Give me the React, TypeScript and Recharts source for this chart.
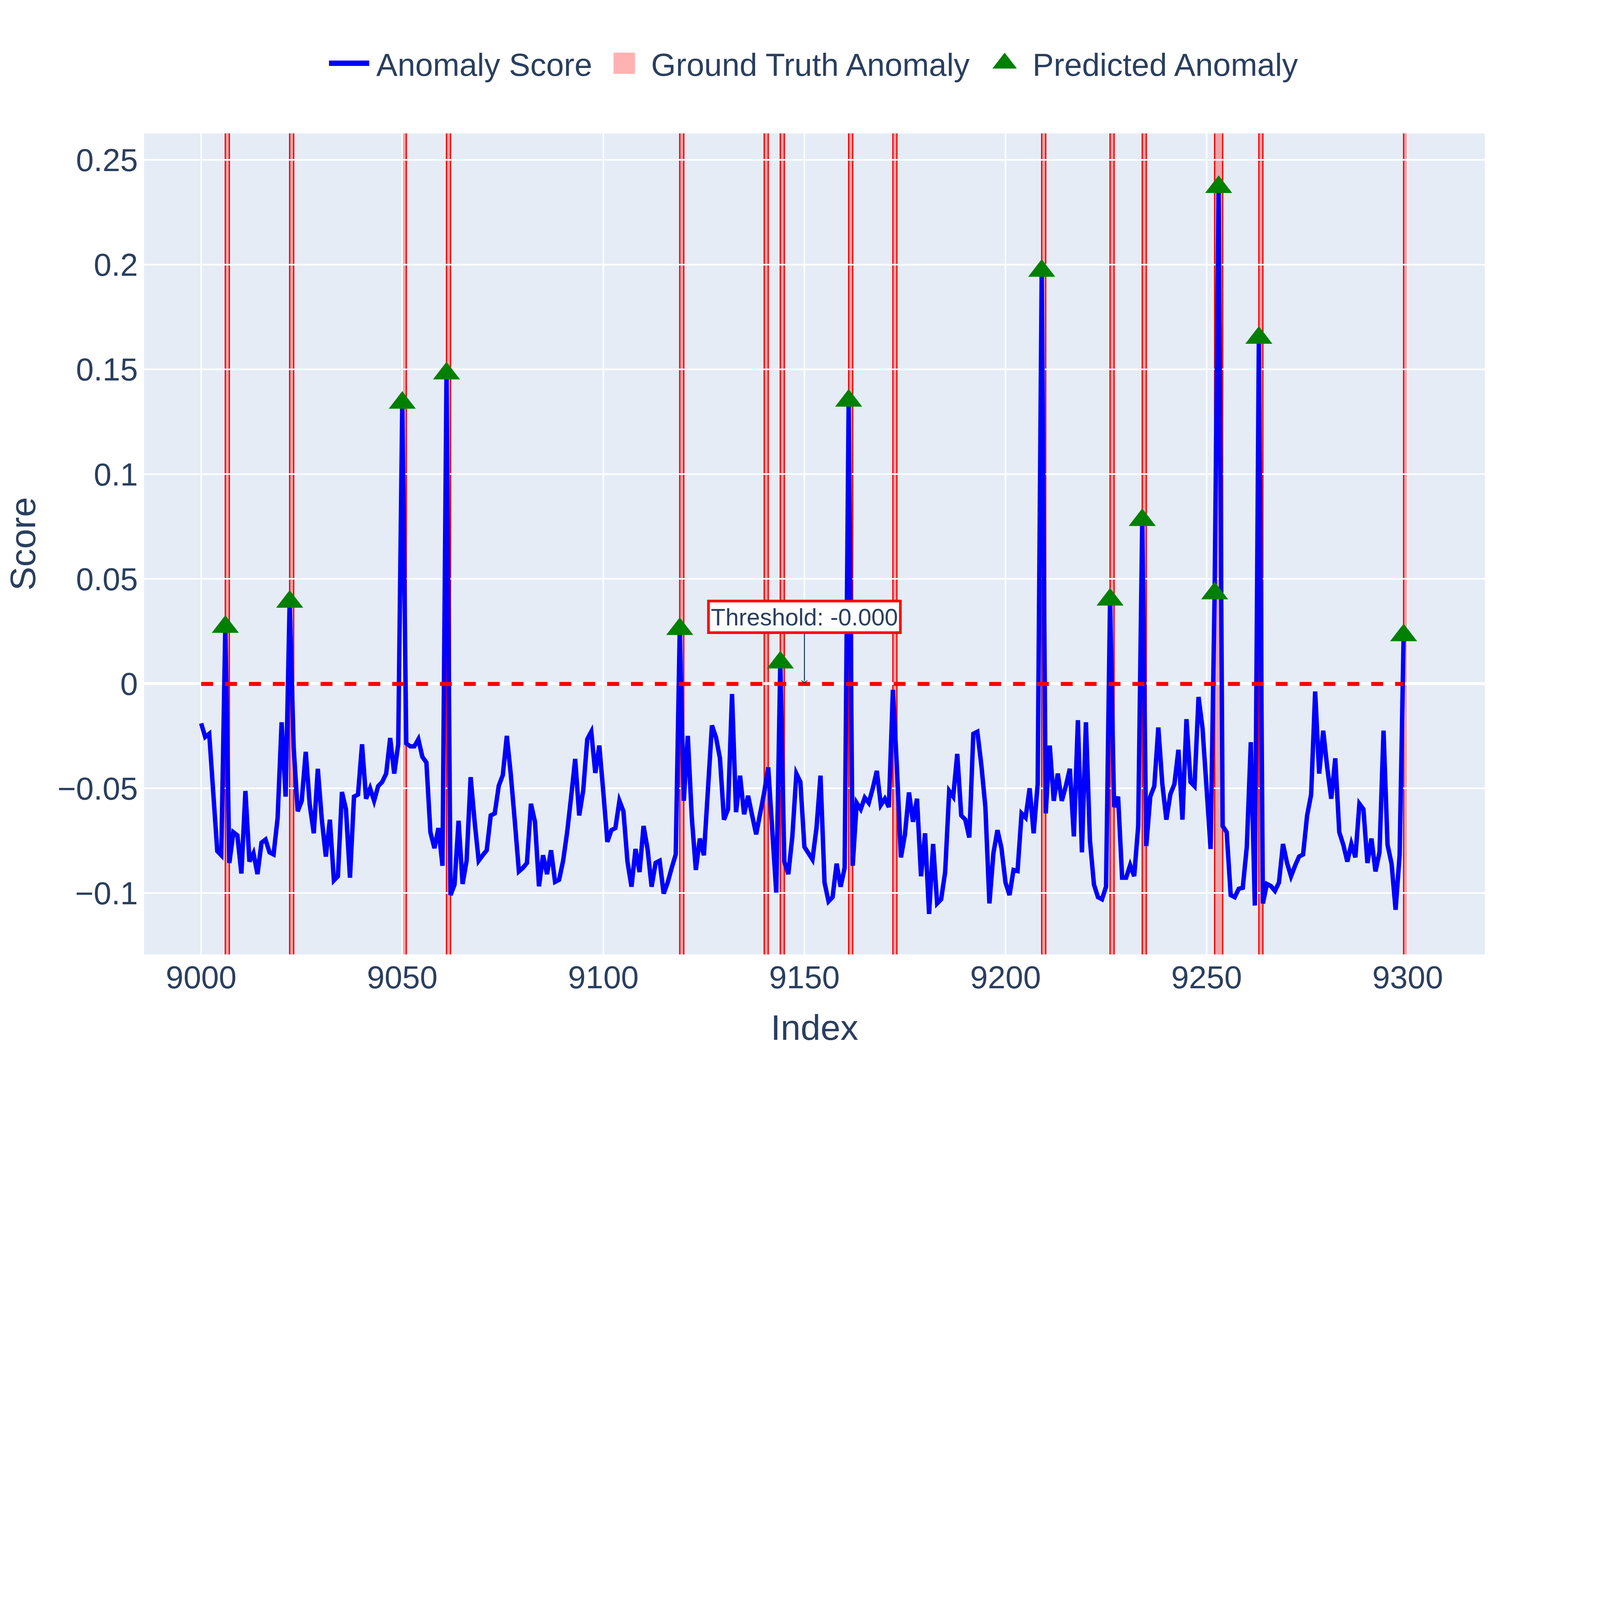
import React from 'react';
import {
  ComposedChart,
  Line,
  Scatter,
  XAxis,
  YAxis,
  CartesianGrid,
  ReferenceArea,
  ReferenceLine,
  ReferenceDot,
  Legend,
} from 'recharts';

// ---- data ----
const START_INDEX = 9000;

const anomalyScores = [
  -0.019, -0.0255, -0.024, -0.052, -0.08, -0.082, 0.027, -0.0857, -0.071, -0.0725,
  -0.0907, -0.0513, -0.085, -0.081, -0.091, -0.076, -0.0745, -0.0806, -0.0816, -0.0644,
  -0.0185, -0.054, 0.039, -0.0306, -0.061, -0.056, -0.0326, -0.058, -0.0715, -0.0407,
  -0.065, -0.0826, -0.065, -0.094, -0.092, -0.0518, -0.06, -0.0927, -0.054, -0.053,
  -0.029, -0.055, -0.05, -0.056, -0.049, -0.047, -0.043, -0.026, -0.043, -0.029,
  0.134, -0.0286, -0.03, -0.03, -0.0266, -0.035, -0.0377, -0.071, -0.0786, -0.069,
  -0.087, 0.148, -0.101, -0.096, -0.0655, -0.0957, -0.0846, -0.0447, -0.066, -0.0846,
  -0.082, -0.0796, -0.063, -0.062, -0.0488, -0.0437, -0.025, -0.0437, -0.066, -0.0897,
  -0.088, -0.0857, -0.0574, -0.066, -0.0968, -0.082, -0.091, -0.0796, -0.0947, -0.0937,
  -0.0846, -0.071, -0.054, -0.036, -0.063, -0.051, -0.0266, -0.023, -0.0427, -0.0296,
  -0.052, -0.0756, -0.07, -0.069, -0.056, -0.061, -0.085, -0.097, -0.079, -0.09,
  -0.068, -0.079, -0.097, -0.0856, -0.0846, -0.1003, -0.095, -0.088, -0.0816, 0.026,
  -0.056, -0.025, -0.064, -0.089, -0.074, -0.082, -0.051, -0.02, -0.0256, -0.0357,
  -0.065, -0.06, -0.005, -0.0614, -0.044, -0.0624, -0.0536, -0.063, -0.072, -0.062,
  -0.052, -0.04, -0.07, -0.0998, 0.01, -0.085, -0.091, -0.073, -0.043, -0.047,
  -0.078, -0.081, -0.084, -0.069, -0.044, -0.095, -0.104, -0.102, -0.086, -0.097,
  -0.088, 0.135, -0.087, -0.057, -0.06, -0.0545, -0.057, -0.05, -0.0417, -0.058,
  -0.055, -0.059, -0.003, -0.04, -0.083, -0.072, -0.052, -0.066, -0.055, -0.092,
  -0.0715, -0.11, -0.0766, -0.105, -0.103, -0.09, -0.0513, -0.054, -0.0336, -0.063,
  -0.065, -0.0735, -0.024, -0.023, -0.039, -0.059, -0.105, -0.081, -0.07, -0.0786,
  -0.095, -0.101, -0.089, -0.0895, -0.062, -0.064, -0.05, -0.0715, -0.048, 0.197,
  -0.062, -0.0296, -0.056, -0.043, -0.056, -0.049, -0.0407, -0.073, -0.0175, -0.0806,
  -0.0185, -0.075, -0.096, -0.102, -0.103, -0.097, 0.04, -0.059, -0.054, -0.0927,
  -0.0927, -0.0867, -0.092, -0.068, 0.078, -0.0776, -0.054, -0.049, -0.021, -0.048,
  -0.065, -0.0528, -0.048, -0.0316, -0.065, -0.017, -0.047, -0.049, -0.0064, -0.0215,
  -0.05, -0.079, 0.043, 0.237, -0.068, -0.071, -0.101, -0.102, -0.098, -0.0975,
  -0.078, -0.028, -0.106, 0.165, -0.105, -0.0957, -0.0967, -0.099, -0.095, -0.0766,
  -0.0856, -0.092, -0.087, -0.0826, -0.0816, -0.063, -0.053, -0.0038, -0.043, -0.0225,
  -0.04, -0.055, -0.0357, -0.071, -0.077, -0.085, -0.0766, -0.083, -0.0574, -0.06,
  -0.0857, -0.074, -0.0897, -0.0806, -0.0225, -0.077, -0.086, -0.108, -0.082, 0.023,
];

const groundTruthRanges: [number, number][] = [
  [9006, 9007], [9022, 9023], [9050, 9051], [9061, 9062], [9119, 9120],
  [9140, 9141], [9144, 9145], [9161, 9162], [9172, 9173], [9209, 9210],
  [9226, 9227], [9234, 9235], [9252, 9254], [9263, 9264], [9299, 9300],
];

const predictedIndices = [
  9006, 9022, 9050, 9061, 9119, 9144, 9161, 9209, 9226, 9234, 9252, 9253, 9263, 9299,
];

const THRESHOLD = -0.0002;
const THRESHOLD_LABEL = 'Threshold: -0.000';
const THRESHOLD_ARROW_X = 9150;

const xTicks = [9000, 9050, 9100, 9150, 9200, 9250, 9300];
const yTicks = [-0.1, -0.05, 0, 0.05, 0.1, 0.15, 0.2, 0.25];

const X_DOMAIN: [number, number] = [8985.6, 9319.4];
const Y_DOMAIN: [number, number] = [-0.1297, 0.263];

// ---- styles (measured at 7200x4800, scaled by S so the whole chart is photographed) ----
const S = 0.566;
const px = (v: number) => v * S;
const FONT = '"Liberation Sans", Arial, Helvetica, sans-serif';
const INK = '#2a3f5f';
const W = Math.round(px(7200));
const H = Math.round(px(4800));

const scoreRows = anomalyScores.map((score, i) => ({ index: START_INDEX + i, score }));
const predictedRows = predictedIndices.map((index) => ({
  index,
  score: anomalyScores[index - START_INDEX],
}));

const fmtY = (v: number) => (v < 0 ? '\u2212' + String(Math.abs(v)) : String(v));

const triPath = (cx: number, cy: number, r: number) => {
  const rt = (r * 2) / Math.sqrt(3);
  return `M${cx - rt},${cy + r / 2}H${cx + rt}L${cx},${cy - r}Z`;
};

const TriangleMarker = (props: any) => {
  const { cx, cy } = props;
  if (cx == null || cy == null) return null;
  return <path d={triPath(cx, cy, px(53))} fill="#008000" />;
};

const ThresholdNote = (props: any) => {
  const { cx, cy } = props;
  if (cx == null || cy == null) return null;
  const boxTop = cy - px(375);
  const boxBottom = cy - px(232);
  return (
    <g>
      <line x1={cx} y1={boxBottom} x2={cx} y2={cy - px(14)} stroke={INK} strokeWidth={px(5)} />
      <path
        d={`M${cx - px(17)},${cy - px(18)}L${cx},${cy - px(10)}L${cx + px(17)},${cy - px(18)}L${cx},${cy}Z`}
        fill={INK}
      />
      <rect
        x={cx - px(434)}
        y={boxTop}
        width={px(868)}
        height={boxBottom - boxTop}
        fill="#ffffff"
        stroke="#ff0000"
        strokeWidth={px(12)}
      />
      <text x={cx} y={cy - px(265)} textAnchor="middle" fontSize={px(108)} fontFamily={FONT} fill={INK}>
        {THRESHOLD_LABEL}
      </text>
    </g>
  );
};

const renderLegend = () => (
  <svg width={W} height={px(480)} style={{ display: 'block' }}>
    <line x1={px(1488)} x2={px(1670)} y1={px(286)} y2={px(286)} stroke="#0000ff" strokeWidth={px(24)} />
    <text x={px(1702)} y={px(342)} fontSize={px(144)} fontFamily={FONT} fill={INK}>
      Anomaly Score
    </text>
    <rect x={px(2775)} y={px(238)} width={px(97)} height={px(96)} fill="#ff0000" fillOpacity={0.3} />
    <text x={px(2945)} y={px(342)} fontSize={px(144)} fontFamily={FONT} fill={INK}>
      Ground Truth Anomaly
    </text>
    <path d={triPath(px(4544), px(286), px(48))} fill="#008000" />
    <text x={px(4670)} y={px(342)} fontSize={px(144)} fontFamily={FONT} fill={INK}>
      Predicted Anomaly
    </text>
  </svg>
);

const App: React.FC = () => {
  return (
    <div style={{ width: W, height: H, margin: '-8px 0 0 -8px', background: '#ffffff', position: 'relative' }}>
      <ComposedChart
        width={W}
        height={H}
        data={scoreRows}
        margin={{ top: px(600), right: px(480), bottom: px(280), left: px(348) }}
      >
        <XAxis
          dataKey="index"
          type="number"
          domain={X_DOMAIN}
          ticks={xTicks}
          allowDataOverflow
          height={px(200)}
          axisLine={false}
          tickLine={false}
          tickSize={0}
          tickMargin={px(48)}
          tick={{ fontSize: px(144), fill: INK, fontFamily: FONT }}
          label={() => (
            <text x={px(3684)} y={px(4703)} textAnchor="middle" fontSize={px(162)} fontFamily={FONT} fill={INK}>
              Index
            </text>
          )}
        />
        <YAxis
          type="number"
          domain={Y_DOMAIN}
          ticks={yTicks}
          allowDataOverflow
          width={px(300)}
          axisLine={false}
          tickLine={false}
          tickSize={0}
          tickMargin={px(24)}
          tickFormatter={fmtY}
          tick={{ fontSize: px(144), fill: INK, fontFamily: FONT }}
          label={() => (
            <text
              x={px(159)}
              y={px(2460)}
              transform={`rotate(-90, ${px(159)}, ${px(2460)})`}
              textAnchor="middle"
              fontSize={px(162)}
              fontFamily={FONT}
              fill={INK}
            >
              Score
            </text>
          )}
        />

        {/* plot background */}
        <ReferenceArea
          x1={X_DOMAIN[0]}
          x2={X_DOMAIN[1]}
          y1={Y_DOMAIN[0]}
          y2={Y_DOMAIN[1]}
          fill="#E5ECF6"
          fillOpacity={1}
          stroke="none"
          zIndex={-300}
        />

        {/* ground truth anomaly spans */}
        {groundTruthRanges.map(([a, b]) => (
          <ReferenceArea
            key={`gt-${a}`}
            x1={a}
            x2={b}
            fill="#ff0000"
            fillOpacity={0.3}
            stroke="#ff0000"
            strokeOpacity={1}
            strokeWidth={px(6)}
            zIndex={-200}
          />
        ))}

        <CartesianGrid stroke="#ffffff" strokeWidth={px(7)} fill="none" zIndex={-100} />
        <ReferenceLine y={0} stroke="#ffffff" strokeWidth={px(13)} zIndex={-50} />

        <Line
          dataKey="score"
          type="linear"
          stroke="#0000ff"
          strokeWidth={px(20)}
          dot={false}
          activeDot={false}
          isAnimationActive={false}
          zIndex={400}
        />

        <ReferenceLine
          segment={[
            { x: START_INDEX, y: THRESHOLD },
            { x: START_INDEX + anomalyScores.length - 1, y: THRESHOLD },
          ]}
          stroke="#ff0000"
          strokeWidth={px(18)}
          strokeDasharray={`${px(54)} ${px(54)}`}
          zIndex={450}
        />

        <Scatter
          data={predictedRows}
          dataKey="score"
          shape={TriangleMarker}
          isAnimationActive={false}
          zIndex={600}
        />

        <ReferenceDot
          x={THRESHOLD_ARROW_X}
          y={THRESHOLD}
          r={0}
          shape={ThresholdNote}
          zIndex={700}
        />

        <Legend
          layout="horizontal"
          verticalAlign="middle"
          align="center"
          content={renderLegend}
          wrapperStyle={{ top: 0, left: 0, width: W, height: px(480) }}
        />
      </ComposedChart>
    </div>
  );
};

export default App;
